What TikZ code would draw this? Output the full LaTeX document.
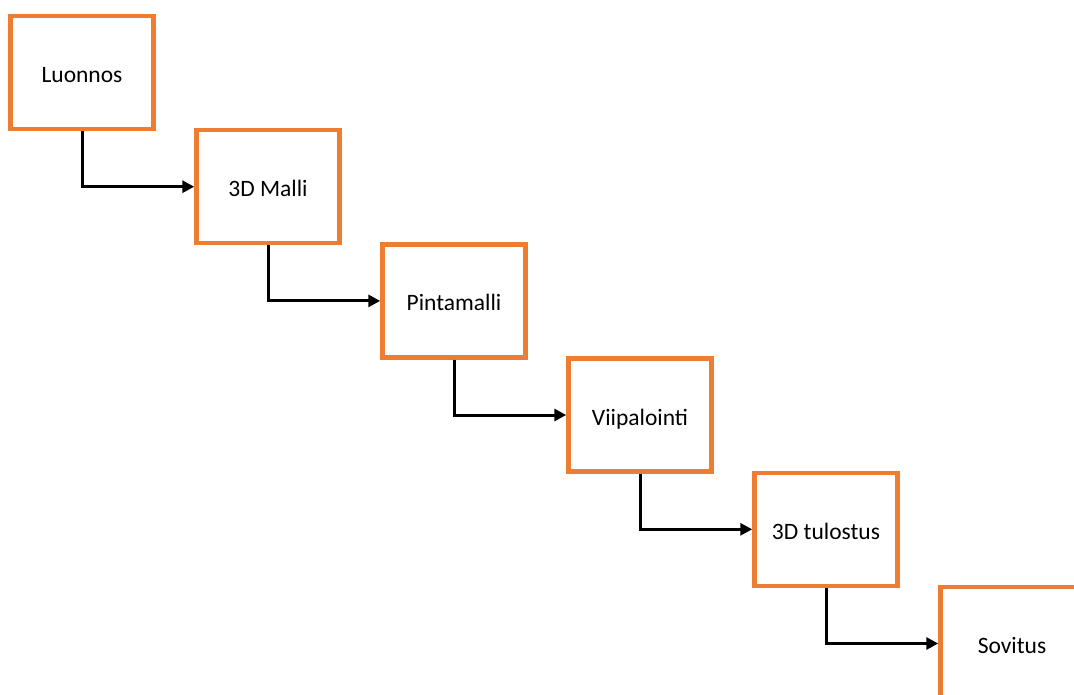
\documentclass[tikz,border=0pt]{standalone}
\usepackage{fontspec}
\setmainfont{Carlito}
\usetikzlibrary{arrows.meta}
\definecolor{boxorange}{HTML}{ED7D31}
\begin{document}
\begin{tikzpicture}[x=1pt,y=-1pt,
  stepbox/.style={draw=boxorange, line width=4.5pt, fill=white, minimum width=143pt, minimum height=113pt, inner sep=0pt, text height=20pt, text depth=0pt, font=\fontsize{23.5}{28}\selectfont},
  conn/.style={draw=black, line width=3pt, -{Triangle[length=12pt,width=12pt]}}]
\useasboundingbox (0,0) rectangle (1074,695);
\clip (0,0) rectangle (1074,695);
\fill[white] (0,0) rectangle (1074,695);
\node[stepbox] (n1) at (82,72.5) {Luonnos};
\node[stepbox] (n2) at (268,186.7) {3D Malli};
\node[stepbox] (n3) at (454,300.9) {Pintamalli};
\node[stepbox] (n4) at (640,415) {Viipalointi};
\node[stepbox] (n5) at (826,529.3) {3D tulostus};
\node[stepbox] (n6) at (1012,643.5) {Sovitus};
\draw[conn] (n1.south) |- (n2.west);
\draw[conn] (n2.south) |- (n3.west);
\draw[conn] (n3.south) |- (n4.west);
\draw[conn] (n4.south) |- (n5.west);
\draw[conn] (n5.south) |- (n6.west);
\end{tikzpicture}
\end{document}
